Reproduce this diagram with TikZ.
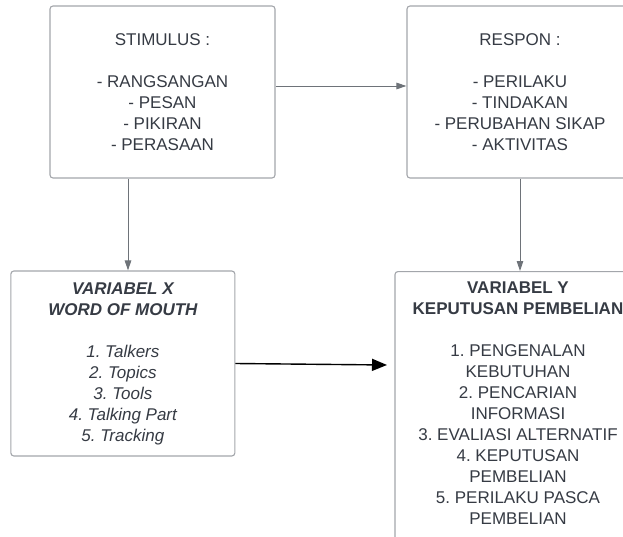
\documentclass[tikz,border=0pt]{standalone}
\usepackage{fontspec}
\setmainfont{Liberation Sans}
\usetikzlibrary{arrows.meta}
\definecolor{txt}{HTML}{363B44}
\definecolor{boxline}{HTML}{A3A6AB}
\definecolor{conn}{HTML}{6E7379}
\frenchspacing
\begin{document}
\begin{tikzpicture}[x=1pt,y=-1pt,
  box/.style={draw=boxline,line width=1.1pt,rounded corners=3pt,fill=white,
    text=txt,align=center,font=\fontsize{17}{21}\selectfont\frenchspacing,inner sep=0pt},
  connline/.style={draw=conn,line width=0.9pt,-{Triangle[length=10pt,width=6.5pt]}},
  bigarrow/.style={draw=black,line width=1.4pt,-{Triangle[length=15pt,width=12pt]}}]
\useasboundingbox (0,0) rectangle (623,537);
\clip (0,0) rectangle (623,537);
\node[box,minimum width=225pt,minimum height=172pt] (stim) at (162.5,92)
  {STIMULUS :\\[21pt]- RANGSANGAN\\- PESAN\\- PIKIRAN\\- PERASAAN};
\node[box,minimum width=226pt,minimum height=172pt] (resp) at (520,92)
  {RESPON :\\[21pt]- PERILAKU\\- TINDAKAN\\- PERUBAHAN SIKAP\\- AKTIVITAS};
\node[box,minimum width=224pt,minimum height=185pt] (varx) at (122.85,363.5)
  {\bfseries\itshape VARIABEL X\\\bfseries\itshape WORD OF MOUTH\\[21pt]
   \itshape 1. Talkers\\\itshape 2. Topics\\\itshape 3. Tools\\\itshape 4. Talking Part\\\itshape 5. Tracking};
\node[box,minimum width=246pt,anchor=north,inner ysep=9.8pt,text depth=60pt] (vary) at (518,271)
  {\bfseries VARIABEL Y\\\bfseries KEPUTUSAN PEMBELIAN\\[21pt]
   1. PENGENALAN\\KEBUTUHAN\\2. PENCARIAN\\INFORMASI\\3. EVALIASI ALTERNATIF\\4. KEPUTUSAN\\PEMBELIAN\\5. PERILAKU PASCA\\PEMBELIAN};
\coordinate (ytip) at (387,365);
\draw[connline] ([yshift=6pt]stim.east) -- ([yshift=6pt]resp.west);
\draw[connline] ([xshift=-34.5pt]stim.south) -- ([xshift=5.15pt]varx.north);
\draw[connline] (resp.south) -- ([xshift=2pt]vary.north);
\draw[bigarrow] (varx.east) -- (ytip);
\end{tikzpicture}
\end{document}
